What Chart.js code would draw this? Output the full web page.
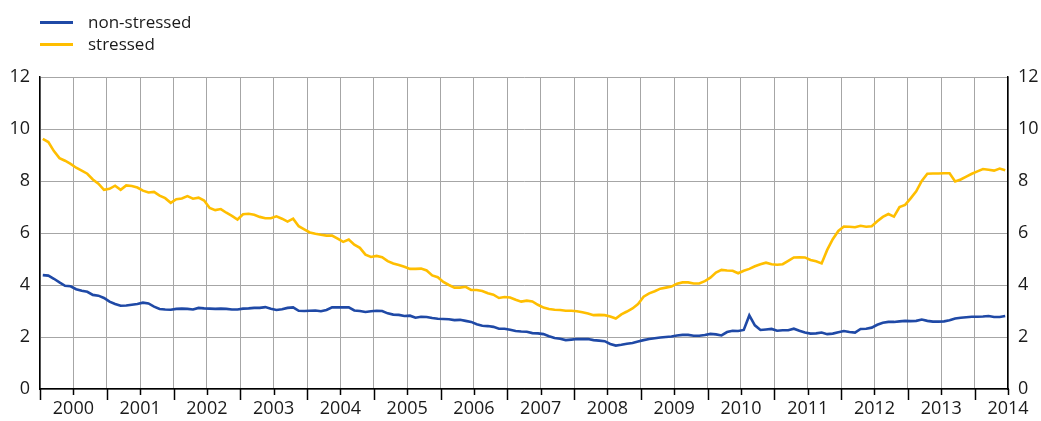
<!DOCTYPE html>
<html>
<head>
<meta charset="utf-8">
<script src="https://cdn.jsdelivr.net/npm/chart.js@4/dist/chart.umd.min.js"></script>
<style>
    html, body { margin: 0; padding: 0; background: #fff; }
    #wrap { position: relative; width: 1041px; height: 421px; font-family: "Open Sans", sans-serif; color: #1a1a1a; }
    #legend { position: absolute; left: 40px; top: 11px; font-size: 17px; line-height: 22px; }
    .legend-item { display: flex; align-items: center; height: 22px; }
    .legend-line { width: 33px; height: 0; border-top: 3px solid; margin-right: 15px; }
</style>
</head>
<body>
<div id="wrap">
    <canvas id="chart" width="1041" height="421"></canvas>
    <div id="legend"></div>
</div>
<script>
// Monthly data, Jan 2000 - Jun 2014
var startYear = 2000;
var seriesNames = ['non-stressed', 'stressed'];
var seriesColors = ['#1F49A6', '#FFBE00'];

var nonStressed = [
    4.38, 4.36, 4.24, 4.10, 3.97, 3.95, 3.84, 3.78, 3.74, 3.62, 3.59, 3.50,
    3.36, 3.27, 3.20, 3.21, 3.24, 3.27, 3.32, 3.29, 3.17, 3.08, 3.06, 3.05,
    3.08, 3.09, 3.08, 3.06, 3.12, 3.10, 3.09, 3.08, 3.09, 3.08, 3.06, 3.06,
    3.09, 3.10, 3.12, 3.12, 3.15, 3.09, 3.04, 3.07, 3.12, 3.14, 3.01, 3.00,
    3.01, 3.02, 2.99, 3.04, 3.14, 3.14, 3.14, 3.14, 3.02, 3.00, 2.96, 2.99,
    3.01, 3.00, 2.91, 2.86, 2.85, 2.81, 2.82, 2.74, 2.78, 2.77, 2.73, 2.70,
    2.69, 2.68, 2.65, 2.66, 2.62, 2.58, 2.49, 2.43, 2.42, 2.39, 2.32, 2.32,
    2.28, 2.23, 2.21, 2.20, 2.15, 2.14, 2.11, 2.03, 1.96, 1.93, 1.88, 1.90,
    1.92, 1.92, 1.92, 1.88, 1.86, 1.84, 1.73, 1.67, 1.70, 1.74, 1.77, 1.83,
    1.88, 1.92, 1.95, 1.98, 2.00, 2.02, 2.06, 2.08, 2.08, 2.05, 2.05, 2.08,
    2.12, 2.10, 2.06, 2.19, 2.24, 2.23, 2.27, 2.83, 2.45, 2.27, 2.29, 2.31,
    2.24, 2.26, 2.26, 2.32, 2.24, 2.17, 2.13, 2.14, 2.17, 2.11, 2.13, 2.18,
    2.23, 2.19, 2.17, 2.31, 2.32, 2.36, 2.47, 2.55, 2.58, 2.58, 2.60, 2.62,
    2.61, 2.62, 2.67, 2.62, 2.59, 2.59, 2.60, 2.64, 2.71, 2.74, 2.76, 2.78,
    2.78, 2.79, 2.81, 2.77, 2.77, 2.81
];

var stressed = [
    9.62, 9.50, 9.15, 8.88, 8.78, 8.66, 8.51, 8.40, 8.28, 8.06, 7.90, 7.66,
    7.70, 7.82, 7.66, 7.83, 7.81, 7.75, 7.63, 7.56, 7.58, 7.44, 7.34, 7.16,
    7.30, 7.33, 7.42, 7.32, 7.36, 7.25, 6.96, 6.88, 6.92, 6.78, 6.66, 6.52,
    6.72, 6.74, 6.70, 6.62, 6.57, 6.57, 6.64, 6.55, 6.44, 6.55, 6.26, 6.14,
    6.02, 5.97, 5.93, 5.90, 5.90, 5.78, 5.66, 5.75, 5.55, 5.43, 5.17, 5.08,
    5.12, 5.07, 4.92, 4.83, 4.77, 4.70, 4.62, 4.62, 4.63, 4.56, 4.37, 4.30,
    4.12, 4.00, 3.90, 3.90, 3.93, 3.81, 3.81, 3.77, 3.68, 3.63, 3.50, 3.54,
    3.52, 3.43, 3.36, 3.40, 3.37, 3.24, 3.13, 3.08, 3.05, 3.04, 3.01, 3.01,
    2.99, 2.95, 2.90, 2.84, 2.85, 2.84, 2.79, 2.71, 2.87, 2.98, 3.10, 3.27,
    3.55, 3.68, 3.76, 3.86, 3.90, 3.94, 4.05, 4.10, 4.10, 4.06, 4.06, 4.15,
    4.28, 4.48, 4.58, 4.56, 4.55, 4.45, 4.55, 4.62, 4.72, 4.80, 4.86, 4.80,
    4.78, 4.80, 4.93, 5.06, 5.07, 5.06, 4.96, 4.91, 4.83, 5.35, 5.76, 6.08,
    6.25, 6.24, 6.22, 6.28, 6.24, 6.26, 6.45, 6.62, 6.73, 6.63, 7.00, 7.08,
    7.33, 7.60, 8.00, 8.28, 8.29, 8.29, 8.30, 8.30, 7.98, 8.06, 8.17, 8.28,
    8.37, 8.46, 8.43, 8.40, 8.48, 8.41
];

var yTicks = [0, 2, 4, 6, 8, 10, 12];
var totalMonths = 174; // x axis runs in months from Jan 2000

// month index -> point centred in its month
function toPoints(values) {
    return values.map(function(v, i) { return { x: i + 0.5, y: v }; });
}

// legend as plain html
var legendHtml = '';
seriesNames.forEach(function(name, i) {
    legendHtml += '<div class="legend-item"><span class="legend-line" style="border-color:' + seriesColors[i] + '"></span>' + name + '</div>';
});
document.getElementById('legend').innerHTML = legendHtml;

// long ticks at year boundaries, short ones mid-year
var yearTicksPlugin = {
    id: 'yearTicks',
    afterDraw: function(chart) {
        var xs = chart.scales.x, ctx = chart.ctx, y0 = chart.chartArea.bottom;
        ctx.save();
        ctx.strokeStyle = '#000';
        ctx.lineWidth = 1.5;
        for (var m = 0; m <= totalMonths; m += 6) {
            var px = Math.round(xs.getPixelForValue(m)) + 0.5;
            ctx.beginPath();
            ctx.moveTo(px, y0);
            ctx.lineTo(px, y0 + (m % 12 === 0 ? 11 : 6));
            ctx.stroke();
        }
        ctx.restore();
    }
};

var tickFont = { family: '"Open Sans", sans-serif', size: 18 };

new Chart(document.getElementById('chart'), {
    type: 'line',
    data: {
        datasets: [
            { label: seriesNames[0], data: toPoints(nonStressed), borderColor: seriesColors[0], borderWidth: 2.6, pointRadius: 0, tension: 0, yAxisID: 'y' },
            { label: seriesNames[1], data: toPoints(stressed), borderColor: seriesColors[1], borderWidth: 2.6, pointRadius: 0, tension: 0, yAxisID: 'y' }
        ]
    },
    options: {
        responsive: false,
        animation: false,
        layout: { padding: { top: 77, left: 0, right: 0, bottom: 0 } },
        plugins: { legend: { display: false }, tooltip: { enabled: false } },
        scales: {
            x: {
                type: 'linear',
                min: 0,
                max: totalMonths,
                afterFit: function(s) { s.height = 32; },
                afterBuildTicks: function(s) {
                    var t = [];
                    for (var m = 0; m <= totalMonths; m += 6) t.push({ value: m });
                    s.ticks = t;
                },
                ticks: {
                    autoSkip: false,
                    maxRotation: 0,
                    padding: 9,
                    color: '#1a1a1a',
                    font: tickFont,
                    callback: function(v) {
                        if (v % 12 === 6) return String(startYear + (v - 6) / 12);
                        if (v === totalMonths) return String(startYear + Math.floor(v / 12));
                        return '';
                    }
                },
                grid: { color: '#a6a6a6', lineWidth: 1, drawTicks: false },
                border: { color: '#000', width: 1.5 }
            },
            y: {
                position: 'left',
                min: yTicks[0],
                max: yTicks[yTicks.length - 1],
                afterFit: function(s) { s.width = 40; },
                ticks: { stepSize: 2, padding: 10, color: '#1a1a1a', font: tickFont },
                grid: { color: '#a6a6a6', lineWidth: 1, drawTicks: false },
                border: { color: '#000', width: 1.5 }
            },
            y2: {
                position: 'right',
                min: yTicks[0],
                max: yTicks[yTicks.length - 1],
                afterFit: function(s) { s.width = 33; },
                ticks: { stepSize: 2, padding: 10, color: '#1a1a1a', font: tickFont },
                grid: { drawOnChartArea: false, drawTicks: false },
                border: { color: '#000', width: 1.5 }
            }
        }
    },
    plugins: [yearTicksPlugin]
});
</script>
</body>
</html>
